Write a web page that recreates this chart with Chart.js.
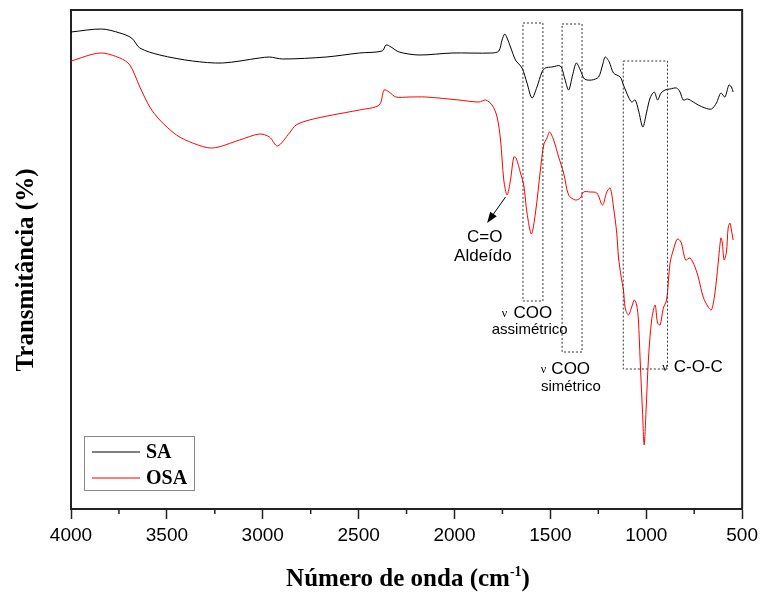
<!DOCTYPE html>
<html>
<head>
<meta charset="utf-8">
<script src="https://cdn.jsdelivr.net/npm/chart.js@4.4.0/dist/chart.umd.min.js"></script>
<style>
  body { margin: 0; background: #fff; }
  canvas { display: block; }
</style>
</head>
<body>
<canvas id="myChart" width="763" height="595"></canvas>
<script>
// numero de onda (cm-1) e transmitancia (unidades arbitrarias)
const saNumeroOnda = [4000, 3840, 3745, 3684, 3641, 3537, 3366, 3210, 3017, 2965, 2897, 2669, 2497, 2377, 2357, 2331, 2289, 2185, 2013, 1805, 1769, 1752, 1738, 1726, 1708, 1682, 1648, 1622, 1596, 1570, 1544, 1526, 1492, 1448, 1426, 1405, 1384, 1365, 1344, 1322, 1284, 1249, 1228, 1214, 1193, 1171, 1136, 1119, 1093, 1076, 1058, 1041, 1018, 998, 980, 958, 941, 923, 902, 876, 842, 824, 807, 784, 755, 729, 694, 660, 634, 611, 590, 569, 556, 547];
const saTransmit = [477, 480, 476, 471, 461, 454, 448, 446, 451, 452, 450, 452, 456, 458, 464, 462, 457, 454, 456, 456, 458, 469, 475, 471, 462, 449, 441, 426, 411, 422, 437, 441, 442, 443, 431, 419, 434, 446, 439, 430, 429, 432, 444, 452, 447, 436, 432, 424, 412, 407, 409, 399, 382, 397, 411, 417, 409, 416, 419, 420, 421, 417, 409, 410, 407, 404, 401, 400, 406, 416, 412, 424, 422, 417];

const osaNumeroOnda = [4000, 3849, 3745, 3693, 3641, 3589, 3537, 3450, 3366, 3262, 3121, 3017, 2965, 2923, 2861, 2826, 2757, 2637, 2497, 2393, 2367, 2341, 2306, 2237, 2150, 1977, 1873, 1838, 1804, 1778, 1760, 1743, 1726, 1708, 1691, 1679, 1656, 1639, 1622, 1599, 1578, 1552, 1535, 1518, 1504, 1483, 1457, 1431, 1405, 1370, 1344, 1327, 1292, 1258, 1228, 1206, 1188, 1171, 1154, 1145, 1131, 1119, 1110, 1093, 1076, 1062, 1050, 1041, 1032, 1020, 1011, 1001, 989, 972, 954, 941, 928, 911, 894, 876, 859, 838, 819, 795, 772, 746, 729, 703, 677, 660, 642, 625, 611, 604, 594, 582, 573, 564, 556, 547];
const osaTransmit = [448, 456, 451, 444, 422, 402, 389, 374, 366, 361, 369, 375, 372, 363, 376, 384, 389, 394, 399, 404, 419, 417, 412, 412, 412, 409, 407, 409, 404, 392, 369, 329, 314, 329, 352, 351, 336, 324, 296, 275, 296, 339, 364, 371, 377, 369, 352, 336, 314, 309, 311, 317, 317, 316, 304, 317, 321, 302, 276, 252, 232, 219, 201, 194, 202, 209, 204, 189, 149, 99, 64, 99, 149, 189, 204, 186, 184, 201, 209, 246, 259, 270, 267, 249, 251, 242, 232, 212, 202, 199, 216, 246, 271, 267, 249, 257, 281, 286, 279, 269];

const nomesSeries = ["SA", "OSA"];
const coresSeries = ["#000000", "#ff0000"];
const ticksX = [4000, 3500, 3000, 2500, 2000, 1500, 1000, 500];
const ticksMenores = [3750, 3250, 2750, 2250, 1750, 1250, 750];

// caixas pontilhadas: [numero de onda inicio, fim, topo, base]
const caixas = [[1643, 1539, 486, 208], [1439, 1335, 485, 157], [1120, 889, 448, 140]];

function juntar(xs, ys) {
  return xs.map((x, i) => ({ x: x, y: ys[i] }));
}

const anotacoes = {
  id: "anotacoes",
  afterDatasetsDraw(chart) {
    const ctx = chart.ctx;
    const sx = chart.scales.x;
    const sy = chart.scales.y;
    const area = chart.chartArea;
    const px = (v) => sx.getPixelForValue(v);
    const py = (v) => sy.getPixelForValue(v);
    ctx.save();

    // moldura superior e direita
    ctx.strokeStyle = "#222";
    ctx.lineWidth = 2;
    ctx.beginPath();
    ctx.moveTo(area.left, area.top);
    ctx.lineTo(area.right, area.top);
    ctx.lineTo(area.right, area.bottom);
    ctx.stroke();

    // ticks menores
    ctx.lineWidth = 1.5;
    ticksMenores.forEach((v) => {
      ctx.beginPath();
      ctx.moveTo(px(v), area.bottom);
      ctx.lineTo(px(v), area.bottom + 5);
      ctx.stroke();
    });

    // caixas pontilhadas
    ctx.setLineDash([2, 2]);
    ctx.lineWidth = 1;
    ctx.strokeStyle = "#333";
    caixas.forEach((c) => {
      ctx.strokeRect(px(c[0]), py(c[2]), px(c[1]) - px(c[0]), py(c[3]) - py(c[2]));
    });
    ctx.setLineDash([]);

    // seta C=O
    const x0 = px(1734), y0 = py(312), x1 = px(1830), y1 = py(286);
    const ang = Math.atan2(y1 - y0, x1 - x0);
    ctx.strokeStyle = "#000";
    ctx.fillStyle = "#000";
    ctx.beginPath();
    ctx.moveTo(x0, y0);
    ctx.lineTo(x1 - 8 * Math.cos(ang), y1 - 8 * Math.sin(ang));
    ctx.stroke();
    ctx.beginPath();
    ctx.moveTo(x1, y1);
    ctx.lineTo(x1 - 11 * Math.cos(ang) + 4 * Math.sin(ang), y1 - 11 * Math.sin(ang) - 4 * Math.cos(ang));
    ctx.lineTo(x1 - 11 * Math.cos(ang) - 4 * Math.sin(ang), y1 - 11 * Math.sin(ang) + 4 * Math.cos(ang));
    ctx.closePath();
    ctx.fill();

    // textos das bandas
    ctx.textAlign = "center";
    ctx.textBaseline = "middle";
    ctx.font = "17px 'Liberation Sans', Arial";
    ctx.fillText("C=O", px(1842), py(272));
    ctx.fillText("Aldeído", px(1852), py(253));
    ctx.fillText("COO", px(1592), py(196));
    ctx.fillText("COO", px(1394), py(140));
    ctx.fillText("C-O-C", px(729), py(142));
    ctx.font = "15px 'Liberation Sans', Arial";
    ctx.fillText("assimétrico", px(1608), py(179));
    ctx.fillText("simétrico", px(1393), py(122));
    ctx.font = "12px 'Liberation Serif', serif";
    ctx.fillText("ν", px(1740), py(195));
    ctx.fillText("ν", px(1536), py(139));
    ctx.fillText("ν", px(902), py(141));

    // legenda
    ctx.strokeStyle = "#888";
    ctx.lineWidth = 1;
    ctx.strokeRect(84.5, 436.5, 110, 54);
    ctx.textAlign = "left";
    ctx.font = "bold 20px 'Liberation Serif', 'Times New Roman', serif";
    nomesSeries.forEach((nome, i) => {
      const yy = 452 + i * 26;
      ctx.strokeStyle = coresSeries[i];
      ctx.beginPath();
      ctx.moveTo(92, yy);
      ctx.lineTo(140, yy);
      ctx.stroke();
      ctx.fillStyle = "#000";
      ctx.fillText(nome, 146, yy + 1);
    });

    // titulos dos eixos
    ctx.fillStyle = "#000";
    ctx.font = "bold 25px 'Liberation Serif', 'Times New Roman', serif";
    ctx.save();
    ctx.translate(27, 270);
    ctx.rotate(-Math.PI / 2);
    ctx.textAlign = "center";
    ctx.fillText("Transmitância (%)", 0, 0);
    ctx.restore();

    const t1 = "Número de onda (cm";
    const t2 = "-1";
    const t3 = ")";
    ctx.textBaseline = "alphabetic";
    ctx.textAlign = "left";
    const w1 = ctx.measureText(t1).width;
    const w3 = ctx.measureText(t3).width;
    ctx.font = "bold 14px 'Liberation Serif', 'Times New Roman', serif";
    const w2 = ctx.measureText(t2).width;
    let xt = 408 - (w1 + w2 + w3) / 2;
    ctx.font = "bold 25px 'Liberation Serif', 'Times New Roman', serif";
    ctx.fillText(t1, xt, 586);
    ctx.font = "bold 14px 'Liberation Serif', 'Times New Roman', serif";
    ctx.fillText(t2, xt + w1, 576);
    ctx.font = "bold 25px 'Liberation Serif', 'Times New Roman', serif";
    ctx.fillText(t3, xt + w1 + w2, 586);

    ctx.restore();
  }
};

const datasets = [
  {
    label: nomesSeries[0],
    data: juntar(saNumeroOnda, saTransmit),
    borderColor: coresSeries[0],
    borderWidth: 1,
    pointRadius: 0,
    tension: 0.3
  },
  {
    label: nomesSeries[1],
    data: juntar(osaNumeroOnda, osaTransmit),
    borderColor: coresSeries[1],
    borderWidth: 1,
    pointRadius: 0,
    tension: 0.3
  }
];

const config = {
  type: "line",
  data: { datasets },
  options: {
    responsive: false,
    animation: false,
    devicePixelRatio: 1,
    layout: { padding: { top: 10, right: 19, left: 0, bottom: 0 } },
    plugins: { legend: { display: false }, tooltip: { enabled: false } },
    scales: {
      x: {
        type: "linear",
        reverse: true,
        min: 500,
        max: 4000,
        afterBuildTicks: (s) => { s.ticks = ticksX.map((v) => ({ value: v })); },
        afterFit: (s) => { s.height = 86; },
        ticks: {
          autoSkip: false,
          maxRotation: 0,
          padding: 5,
          color: "#000",
          font: { family: "'Liberation Sans', Arial", size: 19 },
          callback: (v) => String(v)
        },
        grid: { drawOnChartArea: false, tickLength: 10, tickColor: "#222", tickWidth: 1.5 },
        border: { color: "#222", width: 2 }
      },
      y: {
        min: 0,
        max: 499,
        afterFit: (s) => { s.width = 71; },
        ticks: { display: false },
        grid: { drawOnChartArea: false, drawTicks: false },
        border: { color: "#222", width: 2 }
      }
    }
  },
  plugins: [anotacoes]
};

new Chart(document.getElementById("myChart"), config);
</script>
</body>
</html>
